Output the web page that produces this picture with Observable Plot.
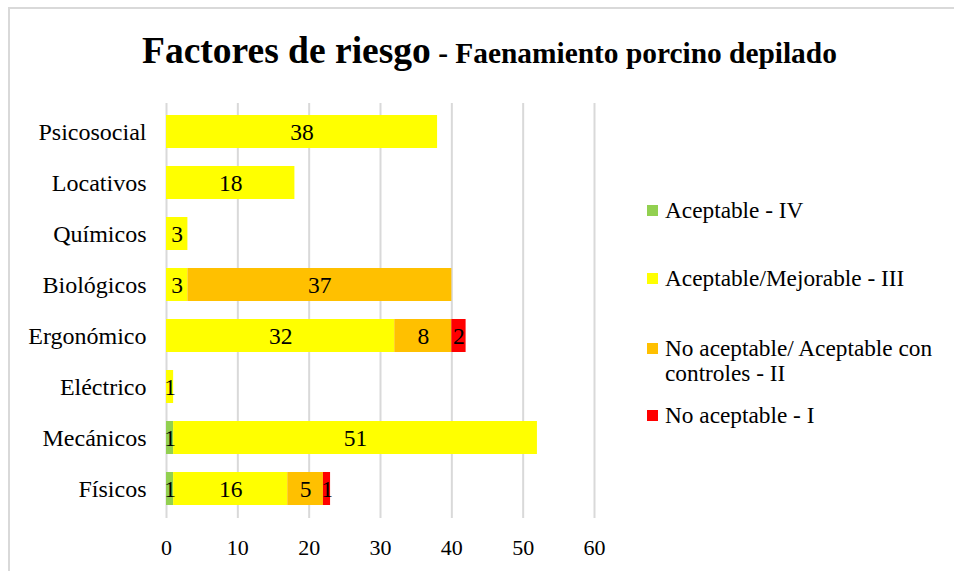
<!DOCTYPE html>
<html>
<head>
<meta charset="utf-8">
<script src="https://cdn.jsdelivr.net/npm/d3@7"></script>
<script src="https://cdn.jsdelivr.net/npm/@observablehq/plot@0.6"></script>
<style>
  html, body { margin: 0; padding: 0; background: #fff; }
  #chart { position: relative; width: 954px; height: 571px; overflow: hidden; font-family: "Liberation Serif", "Times New Roman", serif; }
  #frame { position: absolute; left: 8px; top: 7px; right: -10px; bottom: -10px; border-top: 2px solid #d9d9d9; border-left: 2px solid #d9d9d9; }
  #plot { position: absolute; left: 0; top: 0; }
  #title { position: absolute; left: 0; top: 0; }
  #legend { position: absolute; left: 647px; top: 0; width: 300px; }
  .item { position: absolute; left: 0; display: flex; align-items: flex-start; }
  .sw { width: 11px; height: 11px; margin-top: 7px; margin-right: 7px; flex: none; }
  .lab { font-size: 23.3px; line-height: 25px; width: 284px; color: #000; }
</style>
</head>
<body>
<div id="chart">
  <div id="frame"></div>
  <div id="plot"></div>
  <svg id="title" width="954" height="90"></svg>
  <div id="legend"></div>
</div>
<script>
// Risk factor categories, top to bottom
const categories = ["Psicosocial", "Locativos", "Químicos", "Biológicos", "Ergonómico", "Eléctrico", "Mecánicos", "Físicos"];

// Risk levels (stack order left to right) and their colours
const levels = ["Aceptable - IV", "Aceptable/Mejorable - III", "No aceptable/ Aceptable con controles - II", "No aceptable - I"];
const levelColors = ["#92D050", "#FFFF00", "#FFC000", "#FF0000"];

// Counts per category for each level
const aceptableIV   = [0, 0, 0, 0, 0, 0, 1, 1];
const mejorableIII  = [38, 18, 3, 3, 32, 1, 51, 16];
const controlesII   = [0, 0, 0, 37, 8, 0, 0, 5];
const noAceptableI  = [0, 0, 0, 0, 2, 0, 0, 1];

const xTicks = [0, 10, 20, 30, 40, 50, 60];

const titleMain = "Factores de riesgo";
const titleSub = " - Faenamiento porcino depilado";

const series = [aceptableIV, mejorableIII, controlesII, noAceptableI];
const rows = [];
categories.forEach((cat, i) => {
  series.forEach((vals, j) => {
    if (vals[i] > 0) rows.push({cat, level: levels[j], value: vals[i]});
  });
});

const serif = "'Liberation Serif', 'Times New Roman', serif";
const W = 954, H = 571;
const chart = Plot.plot({
  width: W,
  height: H,
  marginLeft: 166,
  marginRight: W - 594,
  marginTop: 103,
  marginBottom: H - 518,
  style: `font-family: ${serif}; background: transparent; color: #000;`,
  x: {domain: [0, 60], ticks: xTicks},
  y: {domain: categories, paddingInner: 0.35, paddingOuter: 0.175},
  color: {domain: levels, range: levelColors},
  marks: [
    Plot.ruleX(xTicks, {stroke: "#d9d9d9", strokeWidth: 2}),
    Plot.barX(rows, Plot.stackX({x: "value", y: "cat", z: "level", fill: "level", order: null})),
    Plot.text(rows, Plot.stackX({x: "value", y: "cat", z: "level", text: d => String(d.value), order: null, fill: "#000", fontSize: 23.5, fontFamily: serif})),
    Plot.axisX(xTicks, {tickSize: 0, tickPadding: 21, fontSize: 22, fontFamily: serif, label: null, tickFormat: d => String(d)}),
    Plot.axisY({tickSize: 0, tickPadding: 20, fontSize: 24, fontFamily: serif, label: null})
  ]
});
document.getElementById("plot").appendChild(chart);

// Chart title
const t = d3.select("#title").append("text")
  .attr("x", 142).attr("y", 63)
  .attr("font-family", serif).attr("font-weight", "bold").attr("fill", "#000");
t.append("tspan").attr("font-size", 37.5).text(titleMain);
t.append("tspan").attr("font-size", 29.4).text(titleSub);

// Legend on the right, built from the same levels and colours
const legendCenters = [210, 278, 348, 415];
const legend = document.getElementById("legend");
levels.forEach((lv, i) => {
  const item = document.createElement("div");
  item.className = "item";
  item.style.top = (legendCenters[i] - 12.5) + "px";
  const sw = document.createElement("div");
  sw.className = "sw";
  sw.style.background = levelColors[i];
  const lab = document.createElement("div");
  lab.className = "lab";
  lab.textContent = lv;
  item.appendChild(sw);
  item.appendChild(lab);
  legend.appendChild(item);
});
</script>
</body>
</html>
